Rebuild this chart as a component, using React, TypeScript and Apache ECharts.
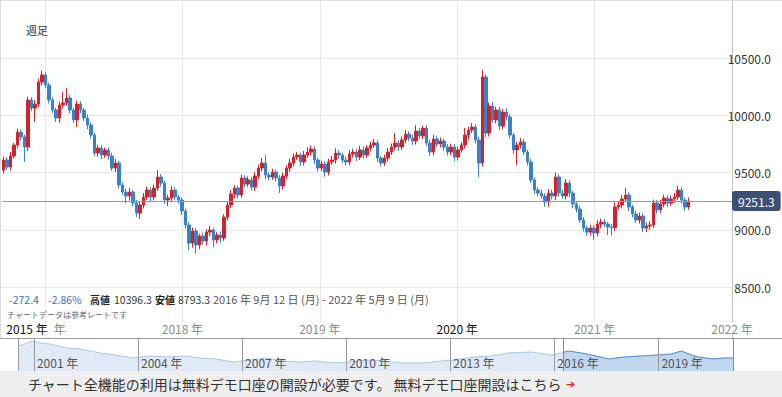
import React, { useEffect, useRef } from "react";
import * as echarts from "echarts";

// ---- main chart data (weekly candles) ----
const firstOpen = 9522;
const closes = [
  9609, 9548, 9644, 9740, 9853, 9810, 9723, 10133, 10063, 10098,
  10290, 10352, 10264, 10133, 10046, 9976, 10090, 10107, 10151, 10046,
  9959, 10098, 10046, 9976, 9915, 9828, 9670, 9714, 9653, 9697,
  9644, 9539, 9583, 9391, 9330, 9295, 9330, 9234, 9146, 9216,
  9286, 9347, 9286, 9365, 9461, 9408, 9260, 9277, 9347, 9286,
  9260, 9164, 9042, 8884, 8989, 8867, 8946, 8902, 8980, 8998,
  8911, 8954, 8928, 9111, 9216, 9312, 9365, 9304, 9452, 9400,
  9435, 9373, 9470, 9539, 9583, 9478, 9461, 9504, 9452, 9382,
  9470, 9539, 9583, 9635, 9653, 9592, 9653, 9679, 9705, 9609,
  9539, 9574, 9504, 9592, 9609, 9670, 9653, 9609, 9592, 9661,
  9679, 9635, 9697, 9653, 9714, 9740, 9758, 9627, 9583, 9627,
  9679, 9723, 9758, 9723, 9784, 9836, 9801, 9775, 9862, 9819,
  9888, 9758, 9679, 9793, 9749, 9775, 9723, 9679, 9723, 9635,
  9697, 9740, 9828, 9871, 9897, 9784, 9583, 10334, 9845, 10081,
  9959, 10046, 9906, 10028, 9985, 9828, 9697, 9740, 9766, 9679,
  9592, 9435, 9347, 9321, 9295, 9242, 9321, 9295, 9461, 9321,
  9295, 9408, 9321, 9225, 9181, 9085, 9015, 8980, 9015, 8972,
  9050, 9068, 9050, 9024, 9020, 9199, 9216, 9269, 9304, 9199,
  9138, 9085, 9120, 9015, 9033, 9042, 9234, 9173, 9225, 9277,
  9234, 9269, 9286, 9347, 9260, 9199, 9251.3,
];
const upperWicks = [
  30, 25, 35, 20, 30, 25, 20, 30, 25, 35,
  30, 38, 26, 20, 25, 20, 30, 96, 87, 25,
  20, 30, 25, 20, 30, 25, 20, 30, 25, 20,
  25, 30, 35, 20, 25, 30, 35, 20, 25, 30,
  35, 30, 25, 30, 61, 25, 20, 30, 35, 25,
  20, 25, 20, 25, 30, 25, 20, 30, 25, 35,
  20, 25, 30, 25, 30, 35, 25, 20, 30, 25,
  30, 25, 35, 30, 44, 70, 25, 30, 20, 25,
  30, 25, 35, 30, 25, 20, 35, 40, 30, 25,
  20, 30, 25, 30, 35, 40, 25, 20, 30, 35,
  30, 25, 35, 30, 25, 30, 35, 25, 20, 30,
  35, 30, 87, 25, 30, 35, 25, 30, 53, 25,
  20, 25, 30, 35, 25, 30, 20, 25, 30, 25,
  30, 25, 60, 30, 35, 25, 30, 62.3, 25, 30,
  35, 30, 25, 30, 35, 25, 20, 30, 35, 25,
  20, 25, 20, 25, 30, 25, 35, 30, 40, 25,
  30, 35, 25, 20, 25, 30, 25, 20, 30, 25,
  35, 30, 25, 20, 25, 40, 30, 35, 61, 25,
  20, 25, 30, 25, 30, 35, 30, 25, 35, 30,
  25, 30, 35, 35, 25, 20, 30,
];
const lowerWicks = [
  30, 25, 30, 20, 25, 30, 130, 35, 25, 122,
  25, 30, 25, 30, 25, 35, 44, 30, 25, 30,
  25, 62, 30, 25, 35, 30, 25, 30, 35, 25,
  30, 25, 35, 30, 25, 61, 40, 30, 35, 52,
  30, 25, 35, 30, 25, 30, 35, 53, 30, 25,
  30, 35, 30, 61, 40, 73.7, 35, 30, 40, 35,
  61, 30, 40, 25, 30, 25, 35, 30, 25, 30,
  25, 30, 35, 25, 30, 35, 30, 25, 30, 61,
  30, 25, 35, 30, 25, 35, 30, 25, 30, 35,
  30, 25, 40, 30, 25, 30, 35, 25, 30, 25,
  30, 35, 25, 30, 25, 30, 25, 35, 30, 25,
  30, 25, 30, 35, 25, 30, 25, 35, 30, 25,
  30, 25, 35, 30, 25, 30, 35, 30, 25, 35,
  30, 25, 30, 35, 25, 30, 122, 30, 35, 30,
  25, 30, 35, 30, 25, 30, 35, 131, 30, 25,
  30, 25, 35, 30, 25, 40, 40, 30, 35, 30,
  25, 30, 35, 35, 30, 25, 30, 35, 30, 61,
  30, 35, 25, 70, 70, 30, 25, 30, 25, 35,
  30, 25, 30, 35, 35, 30, 25, 30, 25, 30,
  35, 25, 30, 25, 30, 35, 25,
];
const futureWeeks = 12;
const lastPrice = 9251.3;
const priceTicks = [8500, 9000, 9500, 10000, 10500];
const yearTicks = [2017, 2018, 2019, 2020, 2021, 2022];
const rangeStartLabel = "2015 年";

// ---- navigator data ----
const navYears = [
  2000.54, 2000.74, 2000.97, 2001.17, 2001.46, 2001.95, 2002.33, 2002.91, 2003.34, 2003.86,
  2004.35, 2004.84, 2005.36, 2005.8, 2006.23, 2006.75, 2007.24, 2007.73, 2008.11, 2008.69,
  2009.12, 2009.64, 2010.13, 2010.56, 2011.09, 2011.58, 2012.24, 2012.73, 2013.08, 2013.69,
  2014.18, 2014.67, 2015.34, 2015.91, 2016.2, 2016.26, 2016.4, 2016.78, 2017.07, 2017.56,
  2018.02, 2018.51, 2019.01, 2019.38, 2019.66, 2019.95, 2020.16, 2020.57, 2020.92, 2021.15,
];
const navValues = [
  11114, 11439, 11927, 11602, 11439, 10788, 10626, 9976, 9650, 9163,
  9488, 9325, 9488, 9163, 9000, 8512, 8837, 9163, 8675, 8512,
  8675, 8350, 8512, 8837, 8675, 8350, 8350, 8675, 8837, 9325,
  9488, 9976, 10138, 9650, 9976, 10060, 10300, 9976, 9650, 9000,
  9325, 9488, 9650, 9813, 10300, 9650, 9325, 9000, 9163, 9163,
];
const navTicks = [2001, 2004, 2007, 2010, 2013, 2016, 2019];
const navWindowStart = 2016.26;

const FONT = "'Noto Sans CJK JP', 'Noto Sans', sans-serif";

export default function App() {
  const ref = useRef<HTMLDivElement>(null);
  useEffect(() => {
    if (!ref.current) return;
    const chart = echarts.init(ref.current, undefined, { renderer: "svg" });

    const total = closes.length + futureWeeks;
    const categories = Array.from({ length: total }, (_, i) =>
      new Date(Date.UTC(2016, 8, 12) + i * 7 * 86400000).toISOString().slice(0, 10)
    );
    const candles = closes.map((c, i) => {
      const o = i === 0 ? firstOpen : closes[i - 1];
      return [o, c, Math.min(o, c) - lowerWicks[i], Math.max(o, c) + upperWicks[i]];
    });
    const navAll = navYears.map((y, i) => [y, navValues[i]]);
    const navSel = navAll.filter((p) => p[0] >= navWindowStart);

    const txt = (x: number, y: number, text: string, fill: string, size: number, weight = "normal", extra: any = {}) => ({
      type: "text",
      z: 100,
      style: { x, y, text, fill, fontSize: size, fontFamily: FONT, fontWeight: weight, verticalAlign: "middle", ...extra },
    });
    const ln = (x1: number, y1: number, x2: number, y2: number, stroke: string) => ({
      type: "line",
      z: 90,
      shape: { x1, y1, x2, y2 },
      style: { stroke, lineWidth: 1 },
    });

    chart.setOption({
      animation: false,
      textStyle: { fontFamily: FONT },
      grid: [
        { left: 2, right: 50, top: 1, bottom: 59 },
        { left: 18, right: 49, top: 339, bottom: 26 },
      ],
      xAxis: [
        { type: "category", gridIndex: 0, data: categories, show: false, position: "top", boundaryGap: true },
        {
          type: "value",
          gridIndex: 0,
          position: "bottom",
          min: 2016.687,
          max: 2022,
          axisLine: { show: false },
          axisTick: { show: false, customValues: yearTicks },
          splitLine: { show: true, lineStyle: { color: "#e8e8e8", width: 1 } },
          axisLabel: {
            inside: true,
            margin: 4,
            customValues: yearTicks,
            color: "#8a8a8a",
            fontSize: 12,
            backgroundColor: "#fff",
            formatter: (v: number) => {
              const y = Math.round(v);
              if (y === yearTicks[0]) return `{k|${rangeStartLabel}}{g|年}`;
              return y === 2020 ? `{k|${y} 年}` : `${y} 年`;
            },
            rich: {
              k: { color: "#111", fontSize: 12, fontFamily: FONT },
              g: { color: "#8a8a8a", fontSize: 12, fontFamily: FONT, padding: [0, 18, 0, 6] },
            },
          },
        },
        {
          type: "value",
          gridIndex: 1,
          min: 2000.54,
          max: 2021.15,
          z: 10,
          axisLine: { show: false },
          axisTick: { show: false, customValues: navTicks },
          splitLine: { show: true, lineStyle: { color: "#9a9a9a", width: 1 } },
          axisLabel: {
            inside: true,
            margin: 3,
            align: "left",
            padding: [0, 0, 0, 3],
            customValues: navTicks,
            color: "#555",
            fontSize: 12,
            formatter: (v: number) => `${Math.round(v)} 年`,
          },
        },
      ],
      yAxis: [
        {
          type: "value",
          gridIndex: 0,
          position: "right",
          min: 8055,
          max: 10998,
          axisLine: { show: true, lineStyle: { color: "#c4c4c4" } },
          axisTick: { show: false, customValues: priceTicks },
          splitLine: { show: true, lineStyle: { color: "#e8e8e8" } },
          axisLabel: {
            customValues: priceTicks,
            align: "right",
            margin: 39,
            color: "#333",
            fontSize: 12,
            formatter: (v: number) => v.toFixed(1),
          },
        },
        { type: "value", gridIndex: 1, min: 7049, max: 12252, show: false },
      ],
      series: [
        {
          type: "candlestick",
          xAxisIndex: 0,
          yAxisIndex: 0,
          data: candles,
          barWidth: 3,
          itemStyle: {
            color: "#d2232c",
            color0: "#3a82c6",
            borderColor: "#d2232c",
            borderColor0: "#3a82c6",
            borderWidth: 1,
          },
          markLine: {
            silent: true,
            symbol: ["none", "none"],
            lineStyle: { color: "#9a9a9a", width: 1, type: "solid" },
            label: {
              show: true,
              position: "end",
              distance: 0,
              formatter: () => lastPrice.toFixed(1),
              backgroundColor: "#3d4f72",
              color: "#fff",
              fontSize: 12,
              fontFamily: FONT,
              padding: [4, 6],
              borderRadius: 3,
            },
            data: [{ yAxis: lastPrice }],
          },
        },
        {
          type: "line",
          xAxisIndex: 2,
          yAxisIndex: 1,
          data: navAll,
          symbol: "none",
          lineStyle: { color: "#a9c6e6", width: 1 },
          areaStyle: { color: "#dfeaf6", opacity: 1 },
          z: 2,
        },
        {
          type: "line",
          xAxisIndex: 2,
          yAxisIndex: 1,
          data: navSel,
          symbol: "none",
          lineStyle: { color: "#5a8fcf", width: 1 },
          areaStyle: { color: "#c0d5ee", opacity: 1 },
          z: 3,
          markLine: {
            silent: true,
            symbol: ["none", "none"],
            label: { show: false },
            lineStyle: { color: "#8a8a8a", width: 1, type: "solid" },
            data: [{ xAxis: navWindowStart }],
          },
        },
      ],
      graphic: [
        ln(0, 0.5, 782, 0.5, "#dddddd"),
        ln(0.5, 0, 0.5, 339, "#dddddd"),
        ln(0, 338.5, 782, 338.5, "#9a9a9a"),
        ln(18.5, 339, 18.5, 371, "#9a9a9a"),
        ln(733.5, 339, 733.5, 371, "#8a8a8a"),
        { type: "rect", z: 95, shape: { x: 0, y: 371, width: 782, height: 26 }, style: { fill: "#eeeeee" } },
        txt(28, 384, "チャート全機能の利用は無料デモ口座の開設が必要です。 無料デモ口座開設はこちら", "#333", 14),
        txt(566, 384, "➔", "#d9262c", 11, "bold", { fontFamily: "DejaVu Sans" }),
        txt(26, 30, "週足", "#333", 11),
        txt(9, 299, "-272.4", "#3c72ba", 10.5),
        txt(48, 299, "-2.86%", "#3c72ba", 10.5),
        txt(90, 299, "高値", "#222", 10, "bold"),
        txt(114, 299, "10396.3", "#333", 10.5),
        txt(155, 299, "安値", "#222", 10, "bold"),
        txt(178, 299, "8793.3", "#333", 10.5),
        txt(213, 299, "2016 年 9月 12 日 (月) - 2022 年 5月 9 日 (月)", "#555", 11),
        txt(7, 314, "チャートデータは参考レートです", "#666", 8),
      ],
    });
    return () => chart.dispose();
  }, []);
  return <div ref={ref} style={{ position: "fixed", left: 0, top: 0, width: 782, height: 397, background: "#fff" }} />;
}
